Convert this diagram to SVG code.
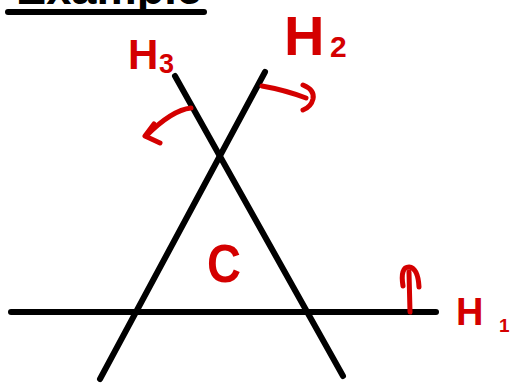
<svg xmlns="http://www.w3.org/2000/svg" width="510" height="384" viewBox="0 0 510 384">
<style>
.blk{stroke:#000;stroke-width:6;stroke-linecap:round;fill:none}
.red{stroke:#d40000;stroke-width:5;stroke-linecap:round;stroke-linejoin:round;fill:none}
.lbl{fill:#d40000;font-family:"Liberation Sans",Arial,sans-serif;font-weight:bold}
.ttl{fill:#000;font-family:"Liberation Sans",Arial,sans-serif;font-weight:bold}
</style>
<rect width="510" height="384" fill="#fff"/>
<g id="title">
<text class="ttl" x="16" y="4" font-size="44" textLength="186" lengthAdjust="spacingAndGlyphs">Example</text>
<line class="blk" x1="8" y1="12" x2="204" y2="12"/>
</g>
<g id="connectors">
<line id="H1-line" class="blk" x1="11" y1="312" x2="436" y2="312"/>
<line id="H2-line" class="blk" x1="265" y1="72" x2="100" y2="379"/>
<line id="H3-line" class="blk" x1="175" y1="76" x2="343" y2="376"/>
</g>
<g id="H1">
<path class="red" d="M410 312 L409 272"/>
<path class="red" d="M403 286 Q400 267 409 267 Q418 268 419 287"/>
<text class="lbl" x="456" y="325" font-size="38">H<tspan x="499" y="332" font-size="19">1</tspan></text>
</g>
<g id="H2">
<path class="red" d="M262 86 Q285 90 306 98"/>
<path class="red" d="M303 85 Q315 90 313 99 Q311 107 303 110"/>
<text class="lbl" x="284" y="55" font-size="56">H<tspan x="330" y="57" font-size="30">2</tspan></text>
</g>
<g id="H3">
<path class="red" d="M191 108 Q172 110 146 136"/>
<path class="red" d="M154 124 L145 136 L160 143"/>
<text class="lbl" x="128" y="69" font-size="42">H<tspan x="159" y="73" font-size="27">3</tspan></text>
</g>
<g id="C">
<text class="lbl" x="207" y="282" font-size="54" textLength="34" lengthAdjust="spacingAndGlyphs">C</text>
</g>
</svg>
